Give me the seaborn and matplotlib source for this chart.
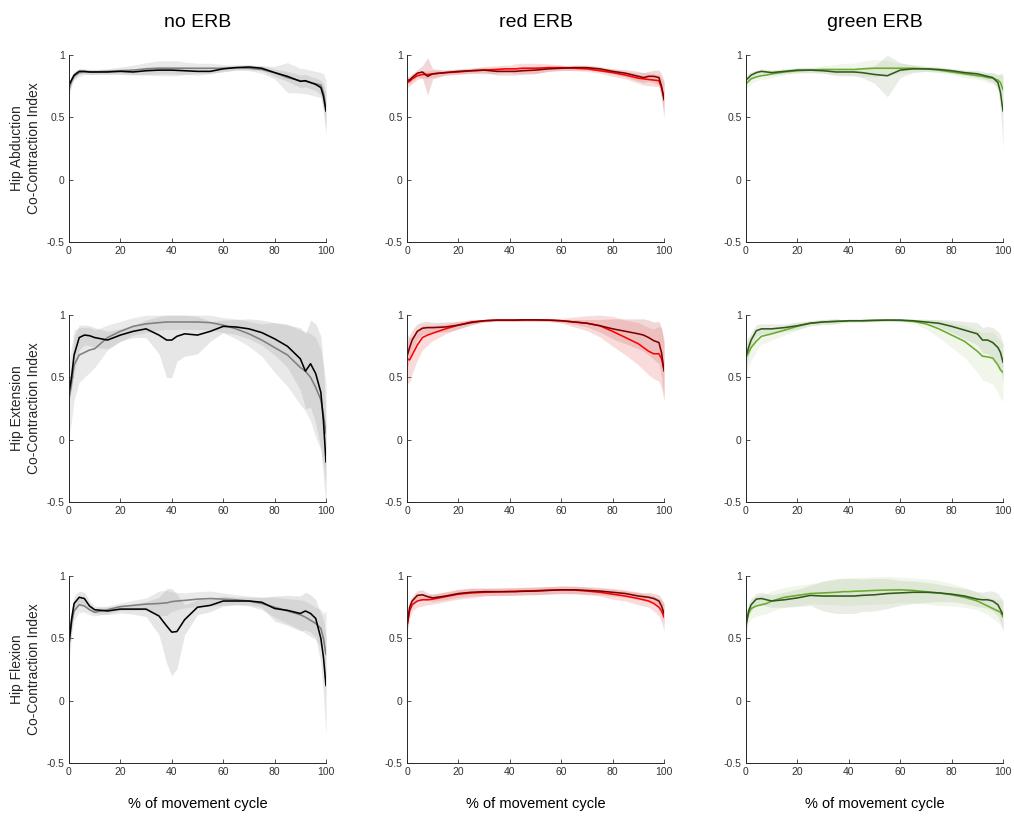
import numpy as np
import pandas as pd
import matplotlib
matplotlib.use('Agg')
import matplotlib.pyplot as plt
import seaborn as sns

# % of movement cycle sample points (shared by every panel)
cycle = [0, 1, 2, 4, 6, 8, 10, 15, 20, 25, 30, 35, 38, 40, 42, 45, 50, 55, 60,
         65, 70, 75, 80, 85, 90, 92, 94, 96, 98, 99, 100]

conditions = ['no ERB', 'red ERB', 'green ERB']
muscles = ['Hip Abduction', 'Hip Extension', 'Hip Flexion']

# ---- Hip Abduction ----
abd_none_a = [.76, .80, .84, .87, .87, .865, .865, .865, .87, .865, .875, .88, .88, .88, .878, .875, .87, .87, .89,
              .90, .905, .895, .86, .83, .79, .795, .78, .765, .74, .67, .55]
abd_none_a_sd = [.03, .03, .03, .02, .02, .02, .02, .02, .02, .02, .03, .03, .03, .03, .03, .03, .03, .02, .02,
                 .02, .02, .02, .03, .04, .05, .05, .05, .05, .06, .10, .15]
abd_none_b = [.72, .79, .83, .86, .865, .865, .865, .87, .875, .88, .89, .895, .895, .895, .895, .895, .895, .895, .895,
              .90, .895, .885, .86, .82, .795, .79, .78, .77, .76, .70, .58]
abd_none_b_sd = [.05, .04, .03, .03, .02, .02, .02, .02, .03, .04, .05, .06, .06, .06, .06, .05, .04, .04, .03,
                 .02, .02, .03, .05, .12, .10, .10, .10, .10, .10, .15, .22]

abd_red_a = [.80, .80, .82, .855, .865, .83, .85, .86, .87, .875, .88, .87, .87, .87, .87, .875, .88, .89, .895,
             .90, .90, .89, .87, .855, .83, .82, .83, .83, .82, .75, .64]
abd_red_a_sd = [.03, .03, .03, .03, .05, .15, .04, .02, .02, .02, .02, .03, .03, .03, .03, .03, .03, .02, .02,
                .02, .02, .02, .02, .03, .04, .04, .04, .05, .06, .10, .15]
abd_red_b = [.78, .79, .81, .835, .845, .845, .85, .86, .865, .875, .88, .885, .89, .89, .89, .895, .895, .90, .90,
             .895, .89, .875, .86, .84, .815, .81, .805, .80, .795, .74, .66]
abd_red_b_sd = [.04, .04, .04, .03, .03, .03, .03, .02, .02, .02, .03, .03, .03, .03, .04, .04, .04, .03, .02,
                .02, .02, .02, .03, .03, .04, .05, .05, .05, .05, .08, .12]

abd_green_a = [.80, .82, .84, .86, .87, .865, .86, .87, .88, .88, .875, .865, .865, .865, .865, .86, .845, .835, .88,
               .89, .89, .885, .875, .86, .85, .84, .83, .82, .78, .70, .55]
abd_green_a_sd = [.03, .03, .03, .02, .02, .02, .02, .02, .02, .02, .02, .03, .03, .03, .03, .04, .07, .17, .06,
                  .03, .02, .02, .02, .02, .03, .03, .03, .04, .06, .15, .30]
abd_green_b = [.77, .79, .81, .825, .835, .84, .85, .865, .875, .88, .885, .885, .885, .885, .885, .89, .895, .895, .895,
               .895, .89, .88, .865, .85, .835, .83, .82, .815, .80, .78, .72]
abd_green_b_sd = [.04, .04, .04, .03, .03, .03, .03, .02, .02, .02, .03, .04, .05, .05, .05, .06, .07, .06, .04,
                  .03, .02, .02, .02, .03, .03, .03, .04, .04, .05, .07, .10]

# ---- Hip Extension ----
ext_none_a = [.37, .50, .68, .82, .84, .835, .82, .80, .84, .87, .89, .84, .80, .80, .83, .85, .84, .87, .91,
              .905, .89, .86, .81, .75, .65, .55, .61, .53, .38, .15, -.18]
ext_none_a_sd = [.05, .10, .15, .10, .08, .08, .08, .07, .05, .05, .07, .15, .30, .30, .20, .18, .15, .08, .05,
                 .06, .08, .10, .13, .17, .25, .30, .35, .40, .45, .45, .35]
ext_none_b = [.32, .45, .60, .68, .70, .72, .73, .82, .87, .91, .93, .94, .945, .945, .945, .945, .945, .94, .92,
              .89, .85, .80, .74, .68, .58, .55, .50, .42, .32, .20, .05]
ext_none_b_sd = [.30, .30, .28, .22, .20, .18, .15, .10, .08, .07, .07, .06, .06, .06, .06, .06, .06, .06, .06,
                 .08, .10, .13, .20, .25, .30, .32, .35, .40, .40, .40, .40]

ext_red_a = [.67, .74, .80, .87, .895, .90, .90, .905, .92, .94, .955, .96, .96, .96, .96, .962, .962, .96, .955,
             .945, .935, .915, .89, .87, .85, .84, .82, .795, .78, .70, .55]
ext_red_a_sd = [.10, .10, .08, .06, .05, .05, .04, .04, .03, .02, .01, .01, .01, .01, .01, .01, .01, .01, .01,
                .02, .03, .05, .08, .10, .12, .13, .14, .15, .17, .20, .22]
ext_red_b = [.65, .64, .68, .76, .82, .84, .855, .89, .92, .945, .955, .96, .96, .96, .96, .962, .962, .96, .955,
             .945, .935, .915, .87, .82, .77, .74, .71, .69, .69, .65, .56]
ext_red_b_sd = [.20, .18, .15, .12, .10, .08, .06, .04, .03, .02, .01, .01, .01, .01, .01, .01, .01, .01, .02,
                .04, .06, .09, .12, .14, .17, .18, .19, .20, .22, .24, .25]

ext_green_a = [.67, .74, .80, .875, .89, .89, .89, .90, .915, .935, .945, .95, .952, .955, .955, .955, .958, .96, .96,
               .955, .945, .935, .91, .88, .85, .80, .80, .78, .74, .70, .62]
ext_green_a_sd = [.10, .08, .06, .05, .04, .04, .04, .03, .03, .02, .02, .02, .01, .01, .01, .01, .01, .01, .01,
                  .01, .02, .03, .05, .07, .09, .10, .11, .12, .13, .14, .15]
ext_green_b = [.66, .70, .74, .79, .83, .84, .85, .88, .91, .935, .945, .95, .952, .955, .955, .955, .958, .96, .958,
               .95, .93, .89, .84, .79, .71, .67, .665, .655, .60, .56, .54]
ext_green_b_sd = [.15, .12, .10, .08, .06, .06, .05, .04, .03, .02, .02, .02, .01, .01, .01, .01, .01, .01, .01,
                  .02, .04, .07, .10, .13, .17, .19, .20, .21, .22, .23, .23]

# ---- Hip Flexion ----
flx_none_a = [.45, .65, .78, .83, .82, .76, .73, .72, .735, .735, .735, .68, .60, .55, .555, .65, .75, .765, .80,
              .80, .80, .79, .74, .725, .70, .72, .70, .66, .50, .35, .12]
flx_none_a_sd = [.10, .08, .06, .05, .05, .04, .03, .03, .03, .04, .06, .15, .30, .35, .30, .12, .06, .05, .04,
                 .03, .03, .04, .10, .12, .14, .15, .15, .15, .20, .30, .40]
flx_none_b = [.45, .62, .72, .77, .76, .73, .71, .73, .755, .765, .775, .78, .785, .795, .80, .805, .815, .82, .815,
              .81, .80, .78, .75, .72, .69, .67, .645, .62, .58, .50, .37]
flx_none_b_sd = [.15, .10, .07, .06, .05, .04, .03, .03, .03, .04, .05, .10, .10, .08, .07, .06, .06, .06, .05,
                 .04, .04, .05, .08, .10, .12, .13, .13, .13, .15, .20, .35]

flx_red_a = [.60, .75, .80, .845, .85, .835, .825, .84, .86, .87, .875, .875, .875, .875, .875, .878, .88, .885, .89,
             .89, .885, .88, .87, .86, .84, .835, .83, .82, .80, .76, .70]
flx_red_a_sd = [.05, .05, .04, .04, .04, .03, .03, .03, .03, .03, .03, .03, .03, .03, .03, .03, .03, .03, .03,
                .03, .03, .03, .03, .03, .03, .03, .04, .04, .05, .06, .08]
flx_red_b = [.60, .72, .77, .80, .81, .81, .815, .835, .855, .865, .87, .873, .875, .877, .878, .88, .883, .887, .89,
             .888, .88, .87, .855, .84, .82, .81, .80, .78, .75, .72, .67]
flx_red_b_sd = [.06, .06, .05, .05, .05, .04, .04, .04, .04, .04, .03, .03, .03, .03, .03, .03, .03, .03, .03,
                .03, .03, .03, .04, .04, .05, .05, .05, .06, .07, .09, .11]

flx_green_a = [.60, .72, .77, .815, .82, .81, .80, .81, .825, .845, .84, .84, .84, .84, .84, .845, .85, .86, .865,
               .87, .87, .865, .855, .84, .815, .81, .81, .80, .77, .73, .69]
flx_green_a_sd = [.05, .05, .05, .05, .05, .05, .05, .06, .07, .08, .12, .14, .14, .14, .14, .13, .13, .12, .10,
                  .09, .08, .07, .06, .06, .06, .06, .07, .08, .09, .10, .12]
flx_green_b = [.62, .70, .74, .76, .77, .78, .80, .83, .845, .86, .865, .87, .875, .875, .878, .88, .885, .888, .89,
               .885, .875, .865, .85, .83, .80, .78, .76, .74, .72, .71, .67]
flx_green_b_sd = [.08, .08, .08, .08, .08, .08, .08, .08, .08, .08, .09, .10, .11, .11, .11, .11, .11, .11, .10,
                  .10, .10, .10, .09, .08, .07, .07, .07, .08, .09, .10, .12]

# line colours (dark / light) and band colours per condition
line_colors = {'no ERB': ('#000000', '#7f7f7f'),
               'red ERB': ('#800000', '#ff0000'),
               'green ERB': ('#2f5a1a', '#6aaa2c')}
band_colors = {'no ERB': ('#a6a6a6', '#b3b3b3'),
               'red ERB': ('#d08080', '#f08888'),
               'green ERB': ('#a9b89c', '#c4dcae')}
band_alpha = {'no ERB': 0.28, 'red ERB': 0.3, 'green ERB': 0.25}

panels = {
    ('Hip Abduction', 'no ERB'): (abd_none_a, abd_none_a_sd, abd_none_b, abd_none_b_sd),
    ('Hip Abduction', 'red ERB'): (abd_red_a, abd_red_a_sd, abd_red_b, abd_red_b_sd),
    ('Hip Abduction', 'green ERB'): (abd_green_a, abd_green_a_sd, abd_green_b, abd_green_b_sd),
    ('Hip Extension', 'no ERB'): (ext_none_a, ext_none_a_sd, ext_none_b, ext_none_b_sd),
    ('Hip Extension', 'red ERB'): (ext_red_a, ext_red_a_sd, ext_red_b, ext_red_b_sd),
    ('Hip Extension', 'green ERB'): (ext_green_a, ext_green_a_sd, ext_green_b, ext_green_b_sd),
    ('Hip Flexion', 'no ERB'): (flx_none_a, flx_none_a_sd, flx_none_b, flx_none_b_sd),
    ('Hip Flexion', 'red ERB'): (flx_red_a, flx_red_a_sd, flx_red_b, flx_red_b_sd),
    ('Hip Flexion', 'green ERB'): (flx_green_a, flx_green_a_sd, flx_green_b, flx_green_b_sd),
}

sns.set_theme(style='ticks')
plt.rcParams['font.family'] = ['Liberation Sans', 'DejaVu Sans']

fig = plt.figure(figsize=(10.14, 8.16), dpi=100)

lefts = [0.068, 0.4014, 0.7357]
bottoms = [0.7034, 0.3848, 0.065]
w, h = 0.2535, 0.229

x = np.array(cycle)
for r, muscle in enumerate(muscles):
    for c, cond in enumerate(conditions):
        ax = fig.add_axes([lefts[c], bottoms[r], w, h])
        mean_a, sd_a, mean_b, sd_b = panels[(muscle, cond)]
        dark, light = line_colors[cond]
        band_a, band_b = band_colors[cond]

        # shaded SD bands first
        for m, s, col in [(mean_b, sd_b, band_b), (mean_a, sd_a, band_a)]:
            m = np.array(m)
            s = np.array(s)
            ax.fill_between(x, m - s, np.minimum(m + s, 1.0), color=col,
                            alpha=band_alpha[cond], lw=0)

        df = pd.DataFrame({'cycle': cycle, 'a': mean_a, 'b': mean_b})
        sns.lineplot(data=df, x='cycle', y='b', ax=ax, color=light, lw=1.15)
        sns.lineplot(data=df, x='cycle', y='a', ax=ax, color=dark, lw=1.15)

        ax.set_xlim(0, 100)
        ax.set_ylim(-0.5, 1)
        ax.set_xticks([0, 20, 40, 60, 80, 100])
        ax.set_yticks([-0.5, 0, 0.5, 1])
        ax.set_yticklabels(['-0.5', '0', '0.5', '1'])
        ax.tick_params(direction='in', length=3, width=0.6, labelsize=7.5,
                       colors='#333333', pad=3)
        sns.despine(ax=ax)
        for sp in ['left', 'bottom']:
            ax.spines[sp].set_color('#262626')
            ax.spines[sp].set_linewidth(0.7)

        ax.set_xlabel('')
        ax.set_ylabel('')
        if r == 0:
            ax.set_title(cond, fontsize=14, pad=20, color='#000000')
        if r == 2:
            ax.set_xlabel('% of movement cycle', fontsize=10.5, labelpad=14, color='#000000')
        if c == 0:
            ax.set_ylabel(muscle + '\nCo-Contraction Index', fontsize=10, color='#262626',
                          linespacing=1.2)
            ax.yaxis.set_label_coords(-0.11, 0.5)

fig.savefig('out.png', dpi=100)
